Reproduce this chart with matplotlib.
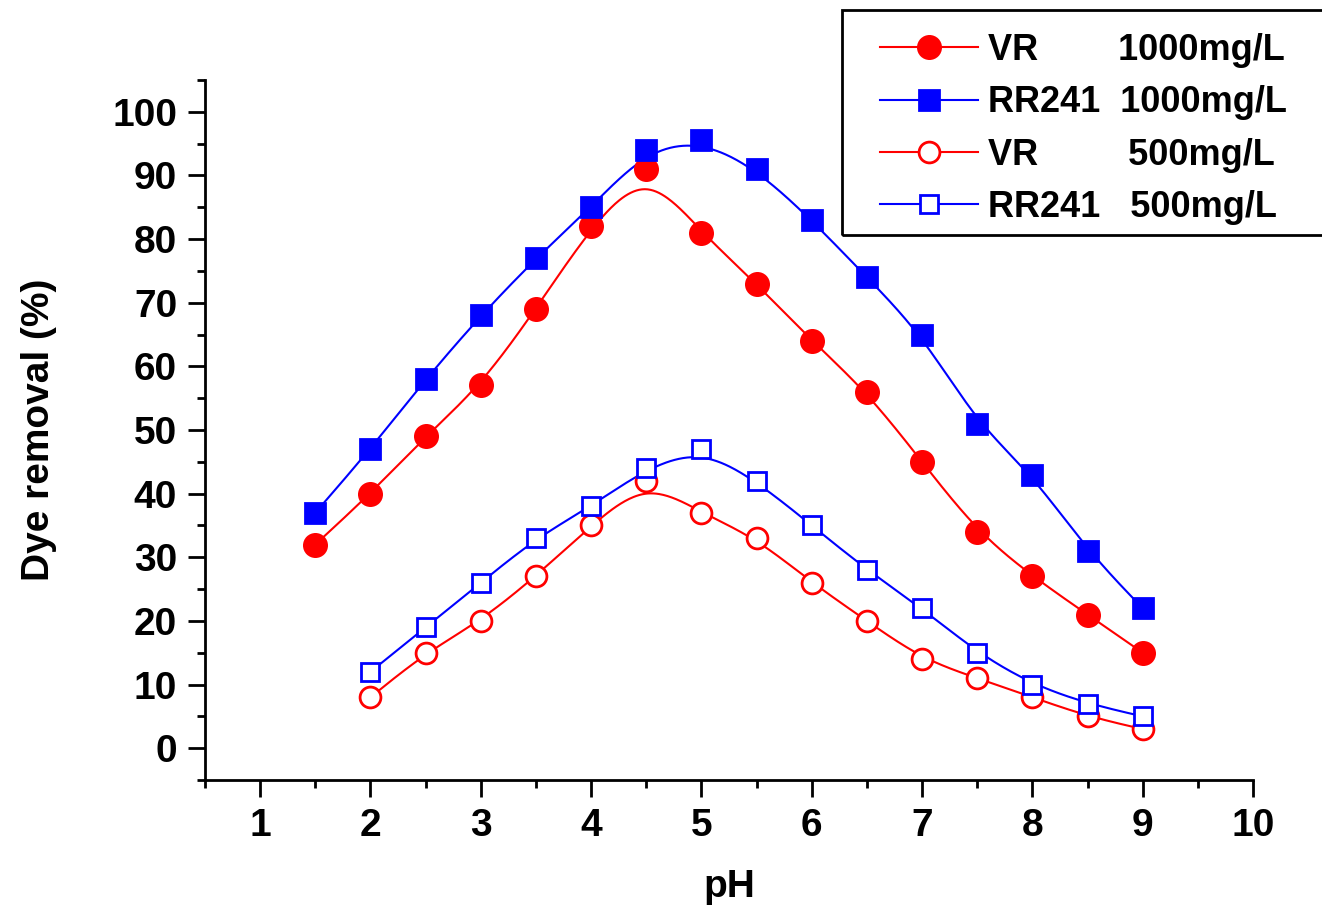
import numpy as np
import matplotlib.pyplot as plt
from matplotlib.patches import Rectangle
from matplotlib.ticker import MultipleLocator

plt.rcParams['font.family'] = ['Liberation Sans', 'DejaVu Sans']
plt.rcParams['font.weight'] = 'bold'

# pH values
ph_1000 = [1.5, 2, 2.5, 3, 3.5, 4, 4.5, 5, 5.5, 6, 6.5, 7, 7.5, 8, 8.5, 9]
ph_500 = [2, 2.5, 3, 3.5, 4, 4.5, 5, 5.5, 6, 6.5, 7, 7.5, 8, 8.5, 9]

# dye removal (%)
vr_1000 = [32, 40, 49, 57, 69, 82, 91, 81, 73, 64, 56, 45, 34, 27, 21, 15]
rr241_1000 = [37, 47, 58, 68, 77, 85, 94, 95.5, 91, 83, 74, 65, 51, 43, 31, 22]
vr_500 = [8, 15, 20, 27, 35, 42, 37, 33, 26, 20, 14, 11, 8, 5, 3]
rr241_500 = [12, 19, 26, 33, 38, 44, 47, 42, 35, 28, 22, 15, 10, 7, 5]

labels = ['VR        1000mg/L', 'RR241  1000mg/L', 'VR         500mg/L', 'RR241   500mg/L']


def bspline(x, y, n=40):
    # clamped uniform cubic B-spline, points used as control points (Origin style)
    P = np.column_stack([x, y]).astype(float)
    P = np.vstack([P[0], P[0], P, P[-1], P[-1]])
    M = np.array([[-1, 3, -3, 1], [3, -6, 3, 0], [-3, 0, 3, 0], [1, 4, 1, 0]]) / 6.0
    t = np.linspace(0, 1, n)
    T = np.column_stack([t**3, t**2, t, np.ones_like(t)])
    out = [T @ M @ P[i:i + 4] for i in range(len(P) - 3)]
    out = np.vstack(out)
    return out[:, 0], out[:, 1]


W, H = 1322, 914
fig = plt.figure(figsize=(W / 100, H / 100), dpi=100)
ax = fig.add_axes([205 / W, 1 - 780 / H, 1048 / W, 700 / H])

series = [
    (ph_1000, vr_1000, 'red', 'o', 'red', 16),
    (ph_1000, rr241_1000, 'blue', 's', 'blue', 14.5),
    (ph_500, vr_500, 'red', 'o', 'white', 15),
    (ph_500, rr241_500, 'blue', 's', 'white', 13.5),
]

handles = []
for (x, y, c, m, fc, ms), lab in zip(series, labels):
    sx, sy = bspline(x, y)
    ax.plot(sx, sy, color=c, lw=1.5, zorder=2)
    ax.plot(x, y, ls='none', marker=m, ms=ms, mfc=fc, mec=c, mew=2, zorder=3)
    h, = ax.plot([], [], color=c, lw=1.5, marker=m, ms=ms, mfc=fc, mec=c, mew=2, label=lab)
    handles.append(h)

ax.set_xlim(0.5, 10)
ax.set_ylim(-5, 105)
ax.xaxis.set_minor_locator(MultipleLocator(0.5))
ax.yaxis.set_minor_locator(MultipleLocator(5))
ax.set_xticks(np.arange(1, 11))
ax.set_yticks(np.arange(0, 101, 10))

for s in ['top', 'right']:
    ax.spines[s].set_visible(False)
for s in ['left', 'bottom']:
    ax.spines[s].set_linewidth(2)
ax.tick_params(which='major', direction='out', length=12, width=2, labelsize=28, pad=8)
ax.tick_params(which='minor', direction='out', length=6, width=2)
for lbl in ax.get_xticklabels() + ax.get_yticklabels():
    lbl.set_fontweight('bold')

ax.set_xlabel('pH', fontsize=28, fontweight='bold', labelpad=18)
ax.set_ylabel('Dye removal (%)', fontsize=28, fontweight='bold', labelpad=40)

# legend, frame drawn separately so it runs off the right edge like the original
leg = fig.legend(handles=handles, loc='upper left', bbox_to_anchor=(862 / W, 1 - 15 / H),
                 prop={'size': 26, 'weight': 'bold'}, frameon=False,
                 handlelength=2.7, borderpad=0, labelspacing=0.48, handletextpad=0.28)
fig.patches.append(Rectangle((842 / W, 1 - 235 / H), 500 / W, 225 / H,
                             transform=fig.transFigure, fill=False,
                             edgecolor='black', lw=2, zorder=0))

fig.savefig('out.png', dpi=100)
